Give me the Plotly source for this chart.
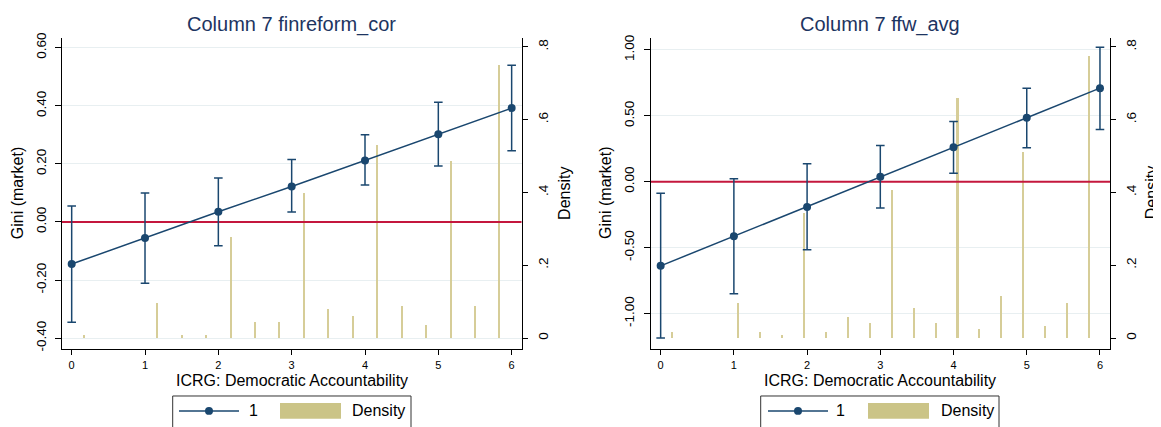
import plotly.graph_objects as go

W, H = 1161, 427
OFF = 8  # page body margin offset of the plot div
FONT = "Liberation Sans, Arial, sans-serif"
NAVY = "#1a476f"
SAND = "#d6cd98"
SAND_LEG = "#cbc487"
RED = "#c4173d"
GRID = "#e8eff1"
TITLE_C = "#1d3461"

# ---------------- data ----------------
x_levels = [0, 1, 2, 3, 4, 5, 6]
x_ticktext = ["0", "1", "2", "3", "4", "5", "6"]

# Panel 1: Column 7 finreform_cor
p1_coef = [-0.145, -0.055, 0.035, 0.122, 0.212, 0.302, 0.392]
p1_hi = [0.055, 0.100, 0.151, 0.215, 0.300, 0.412, 0.540]
p1_lo = [-0.345, -0.211, -0.082, 0.034, 0.127, 0.193, 0.245]
p1_bin_x = [0.167, 1.167, 1.5, 1.833, 2.167, 2.5, 2.833, 3.167, 3.5, 3.833,
            4.167, 4.5, 4.833, 5.167, 5.5, 5.833]
p1_dens = [0.010, 0.096, 0.010, 0.010, 0.279, 0.044, 0.044, 0.400, 0.079, 0.062,
           0.531, 0.088, 0.036, 0.488, 0.088, 0.750]
p1_yticks = [-0.4, -0.2, 0.0, 0.2, 0.4, 0.6]
p1_yticktext = ["-0.40", "-0.20", "0.00", "0.20", "0.40", "0.60"]

# Panel 2: Column 7 ffw_avg
p2_coef = [-0.638, -0.414, -0.191, 0.037, 0.261, 0.486, 0.710]
p2_hi = [-0.087, 0.022, 0.136, 0.275, 0.457, 0.710, 1.020]
p2_lo = [-1.186, -0.849, -0.516, -0.199, 0.064, 0.258, 0.397]
p2_bin_x = [0.15, 1.05, 1.35, 1.65, 1.95, 2.25, 2.55, 2.85, 3.15, 3.45, 3.75,
            4.05, 4.35, 4.65, 4.95, 5.25, 5.55, 5.85]
p2_dens = [0.017, 0.098, 0.017, 0.010, 0.343, 0.017, 0.058, 0.041, 0.408, 0.082,
           0.041, 0.660, 0.025, 0.115, 0.512, 0.033, 0.098, 0.775]
p2_yticks = [-1.0, -0.5, 0.0, 0.5, 1.0]
p2_yticktext = ["-1.00", "-0.50", "0.00", "0.50", "1.00"]

dens_ticks = [0, 0.2, 0.4, 0.6, 0.8]
dens_ticktext = ["0", ".2", ".4", ".6", ".8"]

ref_line_y = 0.0

titles = ["Column 7 finreform_cor", "Column 7 ffw_avg"]
x_title = "ICRG: Democratic Accountability"
y_title = "Gini (market)"
y2_title = "Density"
legend_labels = ["1", "Density"]

# ---------------- layout geometry (screen pixels) ----------------
top_px, bot_px = 33.3, 350.0
px1 = [62.0, 521.7]
px2 = [650.7, 1110.0]
x1_range = [-0.132, 6.137]
x2_range = [-0.136, 6.137]
g1_range = [-0.436, 0.634]
g2_range = [-1.266, 1.092]
dens_range = [-0.029, 0.825]


def fx(sx):
    return (sx - OFF) / W


def fy(sy):
    return (H - (sy - OFF)) / H


ydom = [fy(bot_px), fy(top_px)]

# ---------------- figure ----------------
fig = go.Figure()

panels = [
    dict(coef=p1_coef, hi=p1_hi, lo=p1_lo, bx=p1_bin_x, bd=p1_dens,
         xa="x", yd="y", yg="y2", xr=x1_range),
    dict(coef=p2_coef, hi=p2_hi, lo=p2_lo, bx=p2_bin_x, bd=p2_dens,
         xa="x2", yd="y3", yg="y4", xr=x2_range),
]

for p in panels:
    fig.add_trace(go.Bar(
        x=p["bx"], y=p["bd"], width=0.028,
        marker=dict(color=SAND, line=dict(width=0)),
        xaxis=p["xa"], yaxis=p["yd"], showlegend=False, name="Density"))
    # horizontal reference line at zero (spans the axis range)
    fig.add_trace(go.Scatter(
        x=p["xr"], y=[ref_line_y, ref_line_y], mode="lines",
        line=dict(color=RED, width=2), hoverinfo="skip",
        xaxis=p["xa"], yaxis=p["yg"], showlegend=False))
    fig.add_trace(go.Scatter(
        x=x_levels, y=p["coef"], mode="lines+markers",
        line=dict(color=NAVY, width=1.5),
        marker=dict(color=NAVY, size=8),
        error_y=dict(type="data", symmetric=False,
                     array=[h - c for h, c in zip(p["hi"], p["coef"])],
                     arrayminus=[c - l for c, l in zip(p["coef"], p["lo"])],
                     color=NAVY, thickness=1.5, width=4.3),
        xaxis=p["xa"], yaxis=p["yg"], showlegend=False, name="1"))

tickfont_x = dict(family=FONT, size=11, color="black")
tickfont_y = dict(family=FONT, size=13.5, color="black")


def xaxis_cfg(dom_px, rng, anchor):
    return dict(domain=[fx(dom_px[0]), fx(dom_px[1])], range=rng, anchor=anchor,
                tickvals=x_levels, ticktext=x_ticktext, ticks="outside",
                ticklen=5, tickcolor="black", showline=True, linecolor="black",
                linewidth=1, showgrid=False, zeroline=False, tickfont=tickfont_x,
                ticklabelstandoff=1)


def dens_cfg(anchor):
    return dict(domain=ydom, anchor=anchor, side="right", range=dens_range,
                tickvals=dens_ticks, ticktext=dens_ticktext, tickangle=-90,
                ticks="outside", ticklen=5, tickcolor="black", showline=True,
                linecolor="black", linewidth=1, showgrid=False, zeroline=False,
                tickfont=tickfont_y, ticklabelstandoff=4)


def gini_cfg(overlay, anchor, rng, tv, tt):
    return dict(overlaying=overlay, anchor=anchor, side="left", range=rng,
                tickvals=tv, ticktext=tt, tickangle=-90, ticks="outside",
                ticklen=6, tickcolor="black", showline=True, linecolor="black",
                linewidth=1, showgrid=True, gridcolor=GRID, gridwidth=1.2,
                zeroline=False, tickfont=tickfont_y, ticklabelstandoff=4)


fig.update_layout(
    width=W, height=H, margin=dict(l=0, r=0, t=0, b=0),
    paper_bgcolor="white", plot_bgcolor="white",
    font=dict(family=FONT, color="black"),
    showlegend=False, bargap=0,
    xaxis=xaxis_cfg(px1, x1_range, "y"),
    yaxis=dens_cfg("x"),
    yaxis2=gini_cfg("y", "x", g1_range, p1_yticks, p1_yticktext),
    xaxis2=xaxis_cfg(px2, x2_range, "y3"),
    yaxis3=dens_cfg("x2"),
    yaxis4=gini_cfg("y3", "x2", g2_range, p2_yticks, p2_yticktext),
)

shapes = []
annotations = []


def ann(text, sx, sy, size, color="black", angle=0, xanchor="center"):
    annotations.append(dict(text=text, x=fx(sx), y=fy(sy), xref="paper",
                            yref="paper", showarrow=False, xanchor=xanchor,
                            yanchor="middle", textangle=angle,
                            font=dict(family=FONT, size=size, color=color)))


mid_y = (top_px + bot_px) / 2
for dom, title, rgap in ((px1, titles[0], 43), (px2, titles[1], 41)):
    cx = (dom[0] + dom[1]) / 2
    ann(title, cx, 20, 20, TITLE_C)
    ann(x_title, cx, 382.5, 16)
    ann(y_title, dom[0] - 45, mid_y, 16, angle=-90)
    ann(y2_title, dom[1] + rgap, mid_y, 16, angle=-90)

# legends (Stata style boxes under each panel)
leg_y = 413.5
for bx0, bx1, l0, l1, mx, onex, p0, p1, dx in (
        (172.7, 411.0, 179, 239, 209, 253, 280, 341, 350),
        (760.7, 999.0, 768, 828, 798, 840, 868, 929, 939)):
    shapes.append(dict(type="rect", xref="paper", yref="paper",
                       x0=fx(bx0), x1=fx(bx1), y0=-0.1, y1=fy(398.3),
                       line=dict(color="#333333", width=1), fillcolor="white",
                       layer="below"))
    shapes.append(dict(type="line", xref="paper", yref="paper",
                       x0=fx(l0), x1=fx(l1), y0=fy(leg_y), y1=fy(leg_y),
                       line=dict(color=NAVY, width=1.5)))
    r = 4
    shapes.append(dict(type="circle", xref="paper", yref="paper",
                       x0=fx(mx - r), x1=fx(mx + r),
                       y0=fy(leg_y + r), y1=fy(leg_y - r),
                       line=dict(color=NAVY, width=0), fillcolor=NAVY))
    shapes.append(dict(type="rect", xref="paper", yref="paper",
                       x0=fx(p0), x1=fx(p1), y0=fy(421.5), y1=fy(405.5),
                       line=dict(color=SAND_LEG, width=0), fillcolor=SAND_LEG))
    ann(legend_labels[0], onex, leg_y, 16)
    ann(legend_labels[1], dx, leg_y, 16, xanchor="left")

fig.update_layout(shapes=shapes, annotations=annotations)

fig.write_html("out.html")
